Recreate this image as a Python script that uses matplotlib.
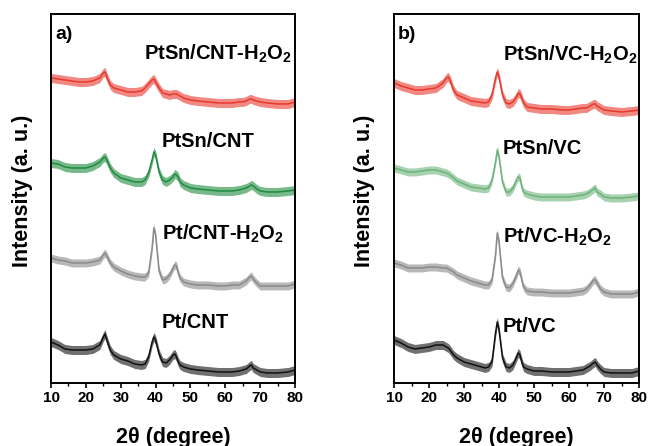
import numpy as np
import matplotlib
matplotlib.use("Agg")
import matplotlib.pyplot as plt

plt.rcParams["font.family"] = ["Liberation Sans", "DejaVu Sans"]
plt.rcParams["font.weight"] = "bold"
plt.rcParams["mathtext.fontset"] = "custom"
plt.rcParams["mathtext.rm"] = "Liberation Sans:bold"
plt.rcParams["mathtext.bf"] = "Liberation Sans:bold"
plt.rcParams["mathtext.it"] = "Liberation Sans:bold"
plt.rcParams["mathtext.default"] = "bf"

# 2-theta sampling (degrees)
two_theta = [10, 12, 14, 16, 18, 20, 22, 24, 25, 25.5, 26, 27, 28, 30, 32, 34, 36, 37, 38,
             39, 39.5, 40, 41, 42, 43, 44, 45, 45.5, 46, 46.5, 47, 48, 50, 52, 55, 58, 60,
             62, 64, 65, 66, 67, 67.5, 68, 69, 70, 72, 75, 78, 80]

# Panel a: CNT-supported catalysts (stacked intensity, a.u.)
ptsn_cnt_h2o2 = [305, 304, 303, 302, 301, 301, 302, 305, 310, 311, 306, 298, 295, 293, 291, 291,
                 292, 295, 299, 303, 304, 301, 295, 290, 289, 288, 289, 289, 289, 288, 287, 285,
                 283, 282, 281, 280, 280, 280, 281, 281, 282, 284, 284, 283, 282, 281, 280, 279,
                 279, 281]
ptsn_cnt = [220, 219, 216, 215, 215, 215, 217, 221, 225, 226, 223, 215, 210, 205, 203, 201, 201,
            203, 210, 223, 231, 228, 211, 203, 201, 203, 206, 209, 208, 206, 201, 198, 195, 194,
            193, 192, 192, 192, 193, 194, 195, 197, 198, 197, 194, 192, 191, 191, 192, 193]
pt_cnt_h2o2 = [125, 123, 122, 120, 120, 120, 121, 123, 128, 130, 127, 120, 116, 112, 109, 107, 106,
               106, 110, 135, 155, 148, 112, 103, 104, 108, 115, 118, 117, 110, 105, 101, 99, 98,
               98, 97, 97, 98, 98, 100, 102, 106, 107, 104, 100, 97, 97, 97, 97, 99]
pt_cnt = [41, 38, 34, 33, 33, 33, 34, 38, 46, 49, 43, 33, 28, 24, 22, 19, 18, 19, 26, 41, 46, 43,
          29, 21, 20, 23, 28, 29, 26, 21, 18, 16, 14, 13, 12, 11, 11, 11, 12, 13, 14, 17, 18, 15,
          13, 11, 10, 10, 11, 13]

# Panel b: Vulcan carbon-supported catalysts (stacked intensity, a.u.)
ptsn_vc_h2o2 = [300, 297, 295, 293, 293, 294, 295, 300, 305, 306, 303, 293, 288, 285, 282, 281,
                280, 281, 288, 305, 311, 306, 288, 280, 279, 281, 286, 290, 289, 285, 280, 276,
                275, 274, 274, 273, 273, 274, 275, 275, 277, 279, 279, 277, 275, 273, 272, 271,
                272, 273]
ptsn_vc = [215, 213, 211, 211, 212, 213, 213, 211, 210, 209, 208, 205, 202, 199, 196, 195, 194,
           195, 203, 221, 233, 226, 201, 191, 191, 195, 203, 206, 205, 196, 191, 189, 187, 186,
           186, 186, 186, 187, 188, 189, 191, 194, 195, 191, 189, 186, 185, 185, 186, 187]
pt_vc_h2o2 = [120, 118, 115, 115, 115, 116, 116, 115, 115, 114, 113, 111, 108, 105, 102, 100, 98,
              98, 103, 128, 150, 141, 105, 96, 95, 100, 108, 113, 111, 103, 96, 92, 91, 91, 90,
              90, 90, 91, 92, 94, 98, 103, 103, 100, 94, 91, 89, 89, 89, 91]
pt_vc = [43, 40, 36, 34, 35, 36, 38, 38, 36, 35, 33, 28, 25, 21, 19, 17, 15, 16, 21, 50, 61, 53,
         25, 16, 15, 18, 26, 30, 28, 21, 16, 14, 12, 12, 11, 11, 11, 12, 13, 15, 17, 20, 21, 18,
         14, 11, 10, 10, 10, 12]

# Half-height of the scan noise for each pattern (a.u.)
noise_a = [4.5, 4.5, 4.0, 4.5]
noise_b = [4.5, 4.0, 4.0, 4.5]

names_a = ["PtSn/CNT-H$_2$O$_2$", "PtSn/CNT", "Pt/CNT-H$_2$O$_2$", "Pt/CNT"]
names_b = ["PtSn/VC-H$_2$O$_2$", "PtSn/VC", "Pt/VC-H$_2$O$_2$", "Pt/VC"]
series_a = [ptsn_cnt_h2o2, ptsn_cnt, pt_cnt_h2o2, pt_cnt]
series_b = [ptsn_vc_h2o2, ptsn_vc, pt_vc_h2o2, pt_vc]

colors_a = ["#e8392e", "#1f8b3f", "#8a8a8a", "#111111"]
colors_b = ["#e8392e", "#6db37a", "#8a8a8a", "#111111"]

fig = plt.figure(figsize=(6.49, 4.46), dpi=100)
ax_a = fig.add_axes([0.0786, 0.1413, 0.3760, 0.8274])
ax_b = fig.add_axes([0.6071, 0.1413, 0.3775, 0.8274])

x = np.array(two_theta)


def draw_panel(ax, series, noise, colors, names, tag, label_x, label_y, first_x, ylab_x):
    for vals, s, c in zip(series, noise, colors):
        y = np.array(vals, dtype=float)
        ax.fill_between(x, y - s, y + s, color=c, alpha=0.6, lw=0)
        ax.plot(x, y, color=c, lw=1.1)
    for i, (name, ly) in enumerate(zip(names, label_y)):
        lx = first_x if i == 0 else label_x
        ax.text(lx, ly, name, fontsize=14.5, fontweight="bold", va="baseline", ha="left")
    ax.text(0.016, 0.968, tag, transform=ax.transAxes, fontsize=14, fontweight="bold",
            va="top", ha="left")
    ax.set_xlim(10, 80)
    ax.set_ylim(0, 369)
    ax.set_xticks(range(10, 81, 10))
    ax.set_xticks(range(15, 80, 10), minor=True)
    ax.set_yticks([])
    ax.tick_params(axis="x", which="major", direction="out", length=3.5, width=1.2,
                   labelsize=11, pad=2)
    ax.tick_params(axis="x", which="minor", direction="out", length=2, width=1.0)
    for lab in ax.get_xticklabels():
        lab.set_fontweight("bold")
    for sp in ax.spines.values():
        sp.set_linewidth(1.4)
    ax.set_xlabel("2\u03b8 (degree)", fontsize=15.5, fontweight="bold")
    ax.xaxis.set_label_coords(0.5, -0.118)
    ax.set_ylabel("Intensity (a. u.)", fontsize=15.5, fontweight="bold")
    ax.yaxis.set_label_coords(ylab_x, 0.52)


draw_panel(ax_a, series_a, noise_a, colors_a, names_a, "a)", 41.8, [323, 236, 143, 55], 36.7,
           -0.072)
draw_panel(ax_b, series_b, noise_b, colors_b, names_b, "b)", 41.1, [322, 229, 140, 51], 41.1,
           -0.077)

fig.savefig("out.png", dpi=100)
